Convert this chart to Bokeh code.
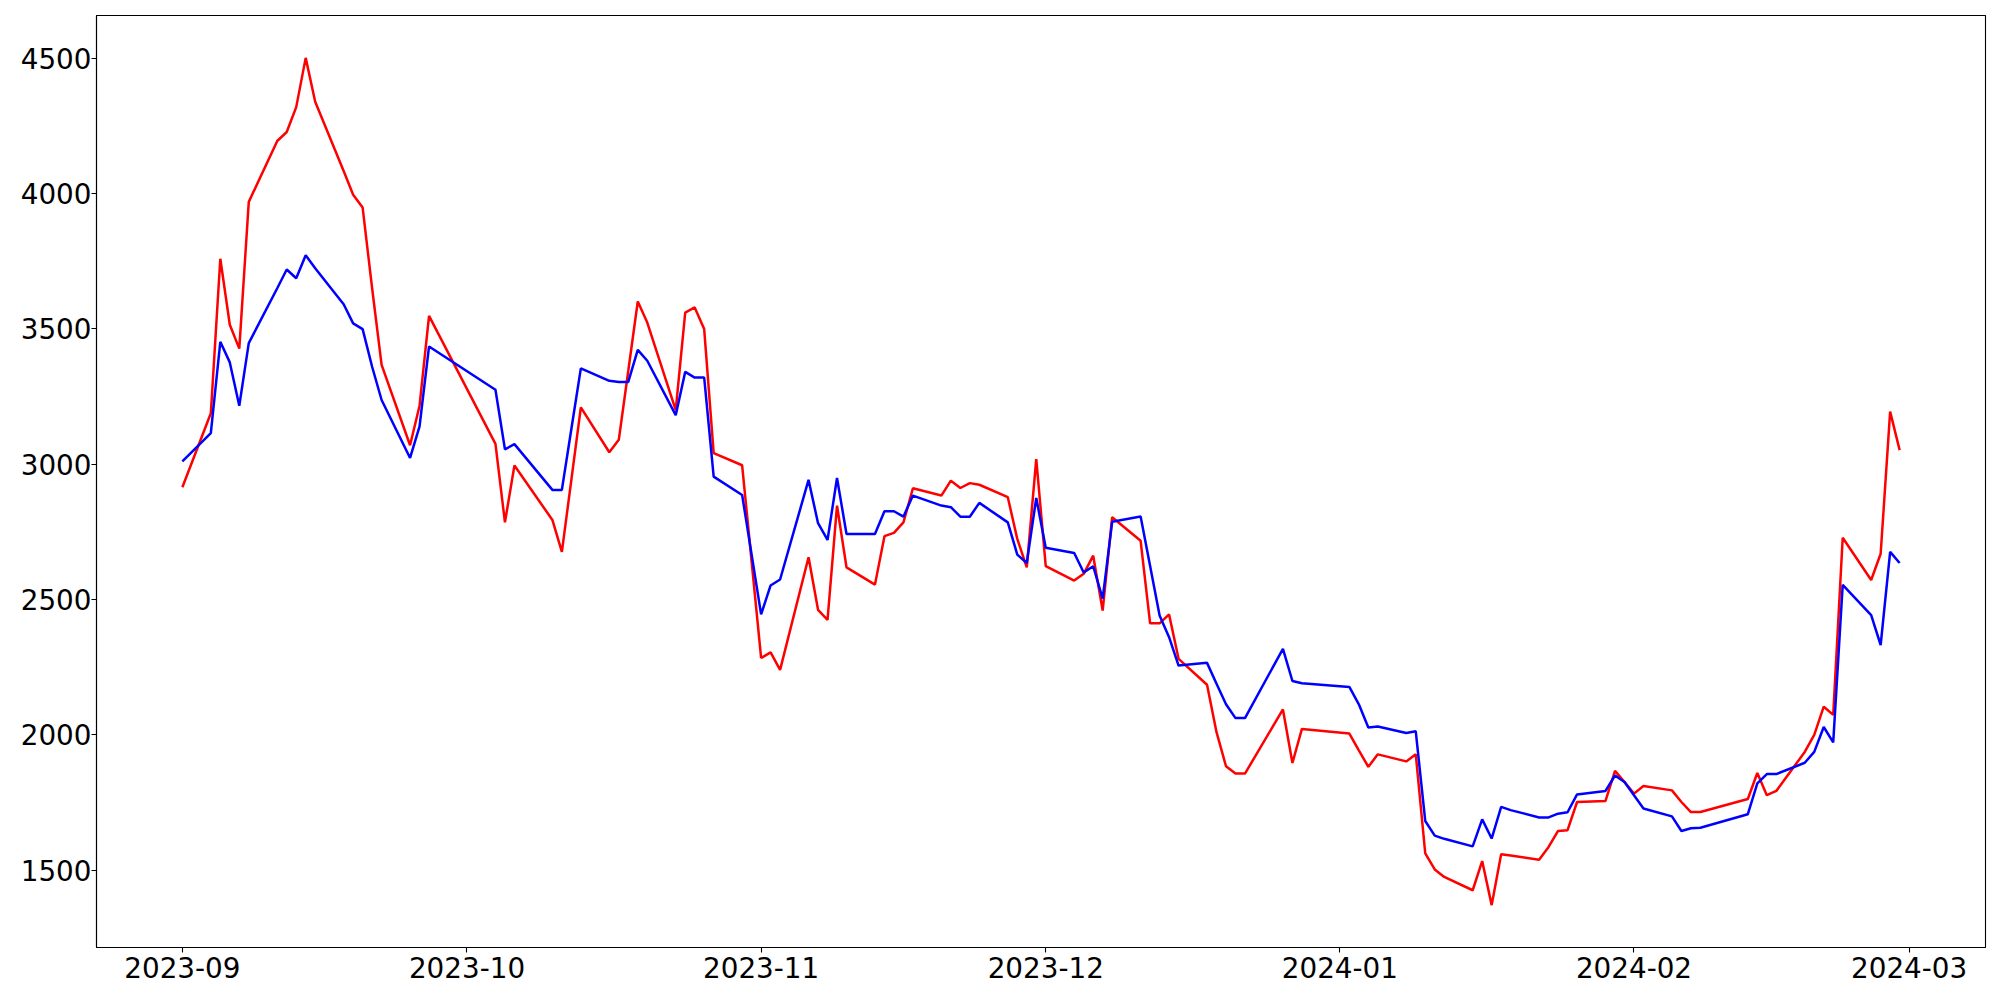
import pandas as pd
from bokeh.plotting import figure
from bokeh.models import Range1d, FixedTicker, DatetimeTickFormatter
from bokeh.embed import file_html
from bokeh.resources import INLINE

# Trading days (Korean market calendar), Sep 2023 - Feb 2024
sep_days = ["2023-09-%02d" % d for d in [1, 4, 5, 6, 7, 8, 11, 12, 13, 14, 15, 18, 19, 20, 21, 22, 25, 26, 27]]
oct_days = ["2023-10-%02d" % d for d in [4, 5, 6, 10, 11, 12, 13, 16, 17, 18, 19, 20, 23, 24, 25, 26, 27, 30, 31]]
nov_days = ["2023-11-%02d" % d for d in [1, 2, 3, 6, 7, 8, 9, 10, 13, 14, 15, 16, 17, 20, 21, 22, 23, 24, 27, 28, 29, 30]]
dec_days = ["2023-12-%02d" % d for d in [1, 4, 5, 6, 7, 8, 11, 12, 13, 14, 15, 18, 19, 20, 21, 22, 26, 27, 28]]
jan_days = ["2024-01-%02d" % d for d in [2, 3, 4, 5, 8, 9, 10, 11, 12, 15, 16, 17, 18, 19, 22, 23, 24, 25, 26, 29, 30, 31]]
feb_days = ["2024-02-%02d" % d for d in [1, 2, 5, 6, 7, 8, 13, 14, 15, 16, 19, 20, 21, 22, 23, 26, 27, 28, 29]]
dates = sep_days + oct_days + nov_days + dec_days + jan_days + feb_days

red_values = [
    2915, 3188, 3759, 3515, 3427, 3969, 4194, 4227, 4319, 4501, 4339, 4083, 3995, 3948, 3650, 3367, 3070, 3216, 3548,
    3075, 2785, 2995, 2794, 2676, 2942, 3210, 3044, 3090, 3345, 3601, 3523, 3200, 3560, 3579, 3499, 3041, 2996, 2640,
    2284, 2305, 2240, 2656, 2462, 2425, 2847, 2619, 2555, 2734, 2746, 2785, 2911, 2884, 2939, 2912, 2930, 2924, 2878, 2724, 2619, 3019,
    2623, 2570, 2595, 2662, 2459, 2804, 2717, 2412, 2412, 2445, 2281, 2185, 2010, 1884, 1857, 1857, 2094, 1896, 2022,
    2005, 1943, 1882, 1928, 1902, 1928, 1562, 1503, 1475, 1426, 1534, 1371, 1559, 1554, 1539, 1586, 1645, 1648, 1752, 1756, 1867, 1826,
    1783, 1811, 1795, 1752, 1715, 1715, 1763, 1859, 1777, 1793, 1937, 2000, 2104, 2074, 2728, 2572, 2669, 3194, 3052,
]
blue_values = [
    3010, 3115, 3452, 3376, 3216, 3447, 3650, 3719, 3687, 3772, 3724, 3591, 3520, 3499, 3360, 3237, 3023, 3140, 3435,
    3275, 3055, 3074, 2905, 2905, 3130, 3354, 3308, 3304, 3304, 3422, 3382, 3181, 3341, 3320, 3320, 2954, 2886, 2666,
    2445, 2552, 2574, 2942, 2782, 2720, 2949, 2742, 2742, 2826, 2826, 2806, 2884, 2847, 2841, 2806, 2806, 2857, 2785, 2666, 2635, 2875,
    2691, 2672, 2600, 2623, 2503, 2787, 2807, 2624, 2441, 2361, 2256, 2266, 2189, 2113, 2062, 2062, 2318, 2199, 2191,
    2177, 2113, 2027, 2031, 2007, 2013, 1682, 1628, 1616, 1588, 1688, 1617, 1734, 1722, 1695, 1695, 1709, 1714, 1780, 1793, 1850, 1826,
    1777, 1728, 1699, 1645, 1655, 1657, 1707, 1821, 1855, 1855, 1897, 1937, 2029, 1972, 2554, 2442, 2332, 2676, 2635,
]

x_tick_dates = ["2023-09-01", "2023-10-01", "2023-11-01", "2023-12-01", "2024-01-01", "2024-02-01", "2024-03-01"]
y_ticks = [1500, 2000, 2500, 3000, 3500, 4000, 4500]

x = pd.to_datetime(dates)

# matplotlib-like 5% margins
x0, x1 = x.min(), x.max()
xpad = (x1 - x0) * 0.05
allv = red_values + blue_values
ymin, ymax = min(allv), max(allv)
ypad = (ymax - ymin) * 0.05

p = figure(
    x_axis_type="datetime",
    frame_width=1889, frame_height=932,
    min_border_left=96, min_border_top=15, min_border_right=8, min_border_bottom=40,
    output_backend="svg", toolbar_location=None,
    x_range=Range1d(start=x0 - xpad, end=x1 + xpad),
    y_range=Range1d(start=ymin - ypad, end=ymax + ypad),
    background_fill_color="white", border_fill_color="white",
)

p.line(x, red_values, line_color="#ff0000", line_width=2.5)
p.line(x, blue_values, line_color="#0000ff", line_width=2.5)

p.xgrid.visible = False
p.ygrid.visible = False
p.outline_line_color = "black"
p.outline_line_width = 1.1
p.outline_line_alpha = 1.0

tick_ms = [pd.Timestamp(d).value // 10**6 for d in x_tick_dates]
p.xaxis.ticker = FixedTicker(ticks=tick_ms)
fmt = "%Y-%m"
p.xaxis.formatter = DatetimeTickFormatter(
    milliseconds=fmt, seconds=fmt, minsec=fmt, minutes=fmt, hourmin=fmt,
    hours=fmt, days=fmt, months=fmt, years=fmt,
)
p.yaxis.ticker = FixedTicker(ticks=y_ticks)

for ax in (p.xaxis, p.yaxis):
    ax.axis_line_color = "black"
    ax.axis_line_width = 1.1
    ax.major_tick_line_color = "black"
    ax.major_tick_line_width = 1.1
    ax.major_tick_out = 5
    ax.major_tick_in = 0
    ax.minor_tick_line_color = None
    ax.major_label_text_font = "DejaVu Sans"
    ax.major_label_text_font_size = "27.8px"
    ax.major_label_text_color = "black"
p.xaxis.major_label_standoff = 4
p.yaxis.major_label_standoff = 0

open("out.html", "w").write(file_html(p, INLINE))
